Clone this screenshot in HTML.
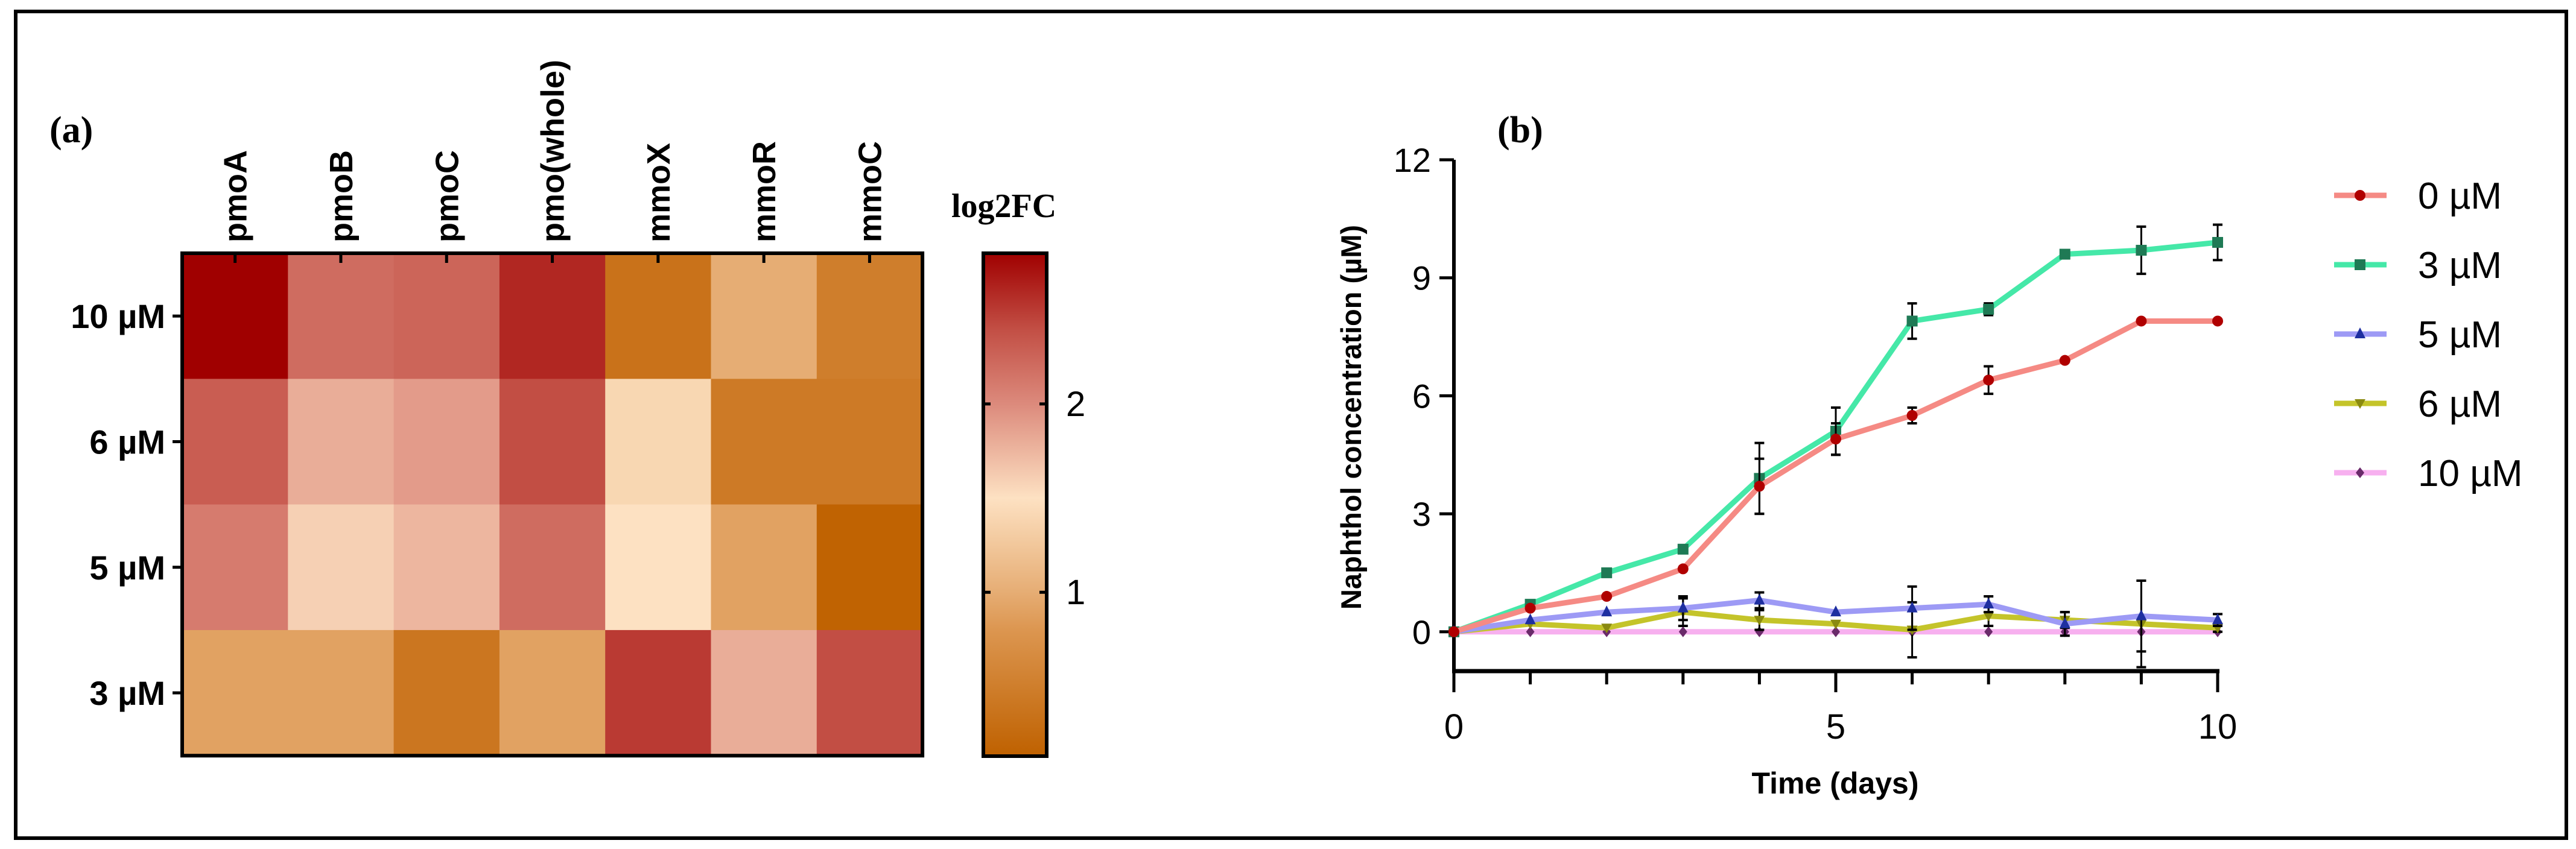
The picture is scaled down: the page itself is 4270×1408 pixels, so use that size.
<!DOCTYPE html>
<html><head><meta charset="utf-8">
<style>
html,body{margin:0;padding:0;background:#fff;}
svg{display:block;}
.sans{font-family:"Liberation Sans",sans-serif;}
.serif{font-family:"Liberation Serif",serif;}
</style></head>
<body>
<svg id="fig" width="4270" height="1408" viewBox="0 0 4270 1408" xmlns="http://www.w3.org/2000/svg">
<rect x="26" y="19" width="4228" height="1371" fill="none" stroke="#000" stroke-width="6"/>
<text x="82" y="236" class="serif" font-weight="bold" font-size="62">(a)</text>
<text x="2482" y="236" class="serif" font-weight="bold" font-size="62">(b)</text>
<text x="1577" y="360" class="serif" font-weight="bold" font-size="56">log2FC</text>
<defs>
<linearGradient id="cbgrad" x1="0" y1="1" x2="0" y2="0"></linearGradient>
</defs>
<g id="heat"></g>
<g id="line"></g>
</svg>
<script>
// ---- heatmap data ----
const genes = ["pmoA","pmoB","pmoC","pmo(whole)","mmoX","mmoR","mmoC"];
const doses = ["10 µM","6 µM","5 µM","3 µM"];
const row10 = [2.8,2.2,2.25,2.6,0.35,1.0,0.5];
const row6  = [2.3,1.8,1.9,2.4,1.4,0.45,0.45];
const row5  = [2.1,1.6,1.75,2.2,1.5,0.9,0.15];
const row3  = [0.9,0.9,0.4,0.9,2.5,1.8,2.4];
const cbTicks = [1,2];
const cbMin = 0.13, cbMax = 2.8;

// ---- line chart data ----
const days = [0,1,2,3,4,5,6,7,8,9,10];
const s0  = [0,0.6,0.9,1.6,3.7,4.9,5.5,6.4,6.9,7.9,7.9];
const e0  = [0,0,0,0,0.7,0.4,0.2,0.35,0,0,0];
const s3  = [0,0.7,1.5,2.1,3.9,5.1,7.9,8.2,9.6,9.7,9.9];
const e3  = [0,0,0,0.1,0.9,0.6,0.45,0.15,0.1,0.6,0.45];
const s5  = [0,0.3,0.5,0.6,0.8,0.5,0.6,0.7,0.2,0.4,0.3];
const e5  = [0,0,0,0.3,0.2,0,0.55,0.2,0.3,0.9,0.15];
const s6  = [0,0.2,0.1,0.5,0.3,0.2,0.05,0.4,0.3,0.2,0.1];
const e6  = [0,0,0,0.35,0.25,0,0.7,0.25,0.2,1.1,0.1];
const s10 = [0,0,0,0,0,0,0,0,0,0,0];
const e10 = [0,0,0,0,0,0,0,0,0,0,0];
const seriesNames = ["0 µM","3 µM","5 µM","6 µM","10 µM"];
const yTicks = [0,3,6,9,12];
const xTicks = [0,5,10];

const NS="http://www.w3.org/2000/svg";
function mk(tag, attrs, parent){const e=document.createElementNS(NS,tag);for(const k in attrs)e.setAttribute(k,attrs[k]);parent.appendChild(e);return e;}

// colormap
const stops=[[0.13,[191,97,0]],[0.8,[220,150,80]],[1.0,[230,173,116]],[1.5,[253,225,194]],[2.0,[220,138,124]],[2.4,[194,78,68]],[2.8,[160,0,0]]];
function cmap(v){
  if(v<=stops[0][0])return rgb(stops[0][1]);
  for(let i=1;i<stops.length;i++){if(v<=stops[i][0]){const a=stops[i-1],b=stops[i];const t=(v-a[0])/(b[0]-a[0]);return rgb(a[1].map((c,j)=>c+(b[1][j]-c)*t));}}
  return rgb(stops[stops.length-1][1]);
}
function rgb(c){return "rgb("+c.map(Math.round).join(",")+")";}

const heat=document.getElementById('heat');
const HX=302,HY=420,CW=175.3,CH=208.3;
const rows=[row10,row6,row5,row3];
rows.forEach((r,ri)=>{r.forEach((v,ci)=>{
  const c=mk('rect',{x:HX+ci*CW,y:HY+ri*CH,width:CW+0.5,height:CH+0.5,fill:cmap(v)},heat);
  
  
});});
const hb=mk('rect',{x:HX,y:HY,width:CW*7,height:CH*4,fill:'none',stroke:'#000','stroke-width':6},heat);


genes.forEach((g,i)=>{
  const cx=HX+(i+0.5)*CW;
  mk('line',{x1:cx,y1:HY,x2:cx,y2:HY+16,stroke:'#000','stroke-width':5},heat);
  const t=mk('text',{x:0,y:0,transform:`translate(${cx+19},402) rotate(-90)`,'font-size':54,'font-weight':'bold',class:'sans'},heat);
  t.textContent=g;
  
  
});
doses.forEach((d,i)=>{
  const cy=HY+(i+0.5)*CH;
  mk('line',{x1:HX-16,y1:cy,x2:HX,y2:cy,stroke:'#000','stroke-width':5},heat);
  const t=mk('text',{x:274,y:cy+20,'text-anchor':'end','font-size':56,'font-weight':'bold',class:'sans'},heat);
  t.textContent=d;
  
  
});
// colorbar
const CBX=1630,CBY=420,CBW=105,CBH=834;
const grad=document.getElementById('cbgrad');
stops.forEach(s=>{mk('stop',{offset:((s[0]-cbMin)/(cbMax-cbMin)),'stop-color':rgb(s[1])},grad);});
const cb=mk('rect',{x:CBX,y:CBY,width:CBW,height:CBH,fill:'url(#cbgrad)',stroke:'#000','stroke-width':6},heat);


function cbY(v){return CBY+CBH-(v-cbMin)/(cbMax-cbMin)*CBH;}
cbTicks.forEach(v=>{
  const y=cbY(v);
  mk('line',{x1:CBX,y1:y,x2:CBX+12,y2:y,stroke:'#000','stroke-width':5},heat);
  mk('line',{x1:CBX+CBW-12,y1:y,x2:CBX+CBW,y2:y,stroke:'#000','stroke-width':5},heat);
  const t=mk('text',{x:CBX+CBW+32,y:y+20,'font-size':58,class:'sans'},heat);
  t.textContent=v;
  
  
});

// ---- line chart ----
const L=document.getElementById('line');
const X0=2410,X1=3676,Y0v=-1,Y1v=12,PY0=1113,PY1=265;
function xs(d){return X0+(d-days[0])/(10-0)*(X1-X0);}
function ys(v){return PY0-(v-Y0v)/(Y1v-Y0v)*(PY0-PY1);}
// axes
mk('line',{x1:X0,y1:PY1,x2:X0,y2:PY0+3,stroke:'#000','stroke-width':6},L);
mk('line',{x1:X0-3,y1:PY0,x2:X1+3,y2:PY0,stroke:'#000','stroke-width':7},L);
yTicks.forEach(v=>{
  const y=ys(v);
  mk('line',{x1:X0-24,y1:y,x2:X0,y2:y,stroke:'#000','stroke-width':5},L);
  const t=mk('text',{x:2372,y:y+20,'text-anchor':'end','font-size':56,class:'sans'},L);
  t.textContent=v;
  
  
});
days.forEach(d=>{
  const x=xs(d);const major=xTicks.includes(d);
  mk('line',{x1:x,y1:PY0,x2:x,y2:PY0+(major?35:22),stroke:'#000','stroke-width':5},L);
});
xTicks.forEach(d=>{
  const t=mk('text',{x:xs(d),y:1225,'text-anchor':'middle','font-size':58,class:'sans'},L);
  t.textContent=d;
  
  
});
let t=mk('text',{x:3042,y:1316,'text-anchor':'middle','font-size':50,'font-weight':'bold',class:'sans'},L);
t.textContent="Time (days)";


t=mk('text',{x:0,y:0,transform:'translate(2256,692) rotate(-90)','text-anchor':'middle','font-size':47,'font-weight':'bold',class:'sans'},L);
t.textContent="Naphthol concentration (µM)";



const allS=[s0,s3,s5,s6,s10], allE=[e0,e3,e5,e6,e10];
const lineCol=["#f58a84","#45e8a8","#9d9af5","#c4c42a","#f7b0ef"];
const markCol=["#b00000","#1f7a55","#1e2fa0","#8a8a10","#6a2a6a"];
const shapes=["circle","square","tri","tridown","diamond"];
function marker(shape,x,y,col,g){
  const r=9;let e;
  if(shape==="circle")e=mk('circle',{cx:x,cy:y,r:r,fill:col},g);
  else if(shape==="square")e=mk('rect',{x:x-r,y:y-r,width:2*r,height:2*r,fill:col},g);
  else if(shape==="tri")e=mk('polygon',{points:`${x},${y-r-2} ${x-r},${y+r-2} ${x+r},${y+r-2}`,fill:col},g);
  else if(shape==="tridown")e=mk('polygon',{points:`${x},${y+r} ${x-r},${y-r+2} ${x+r},${y-r+2}`,fill:col},g);
  else e=mk('polygon',{points:`${x},${y-r} ${x-7},${y} ${x},${y+r} ${x+7},${y}`,fill:col},g);
  return e;
}
// draw in reverse order so 0µM on top
[4,3,2,1,0].forEach(si=>{
  const g=mk('g',{},L);
  
  
  const pts=days.map((d,i)=>xs(d)+","+ys(allS[si][i])).join(" ");
  const pl=mk('polyline',{points:pts,fill:'none',stroke:lineCol[si],'stroke-width':9,'stroke-linejoin':'miter'},g);
  
  
  days.forEach((d,i)=>{
    const e=allE[si][i];const x=xs(d);
    if(e>0){
      const ya=ys(allS[si][i]+e), yb=ys(Math.max(allS[si][i]-e,-1));
      mk('line',{x1:x,y1:ya,x2:x,y2:yb,stroke:'#000','stroke-width':3},g);
      mk('line',{x1:x-8,y1:ya,x2:x+8,y2:ya,stroke:'#000','stroke-width':4},g);
      mk('line',{x1:x-8,y1:yb,x2:x+8,y2:yb,stroke:'#000','stroke-width':4},g);
    }
    const m=marker(shapes[si],x,ys(allS[si][i]),markCol[si],g);
    
    
  });
});
// legend
seriesNames.forEach((n,i)=>{
  const y=324+i*115;
  const g=mk('g',{},L);
  
  
  mk('line',{x1:3869,y1:y,x2:3956,y2:y,stroke:lineCol[i],'stroke-width':9},g);
  marker(shapes[i],3912,y,markCol[i],g);
  const tt=mk('text',{x:4008,y:y+22,'font-size':62,class:'sans'},g);
  tt.textContent=n;
});
</script>
</body></html>
